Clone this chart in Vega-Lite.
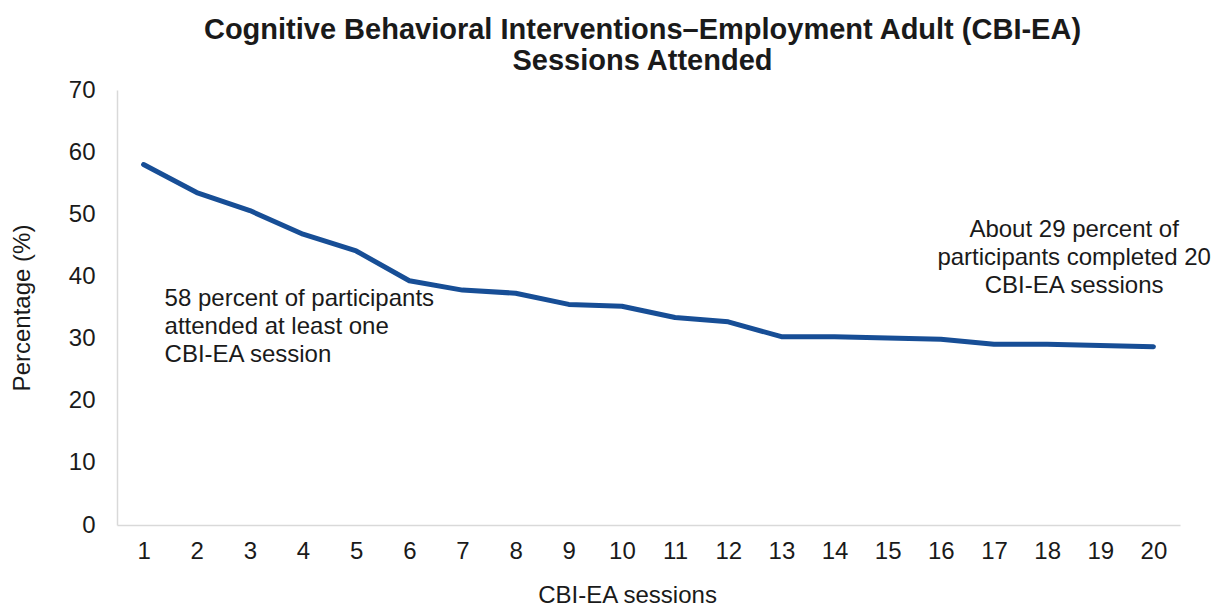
{
  "$schema": "https://vega.github.io/schema/vega-lite/v6.json",
  "autosize": "none",
  "width": 1063,
  "height": 435,
  "padding": {"left": 117, "top": 90, "right": 33, "bottom": 82},
  "background": "white",
  "config": {
    "font": "Liberation Sans",
    "view": {"stroke": null}
  },
  "title": {
    "text": ["Cognitive Behavioral Interventions–Employment Adult (CBI-EA)", "Sessions Attended"],
    "font": "Liberation Sans",
    "fontSize": 29,
    "fontWeight": "bold",
    "color": "#1a1a1a",
    "lineHeight": 31,
    "anchor": "middle",
    "offset": 2,
    "dx": -6
  },
  "datasets": {
    "attendance": [
      {"session": "1", "pct": 58.0},
      {"session": "2", "pct": 53.5},
      {"session": "3", "pct": 50.6},
      {"session": "4", "pct": 46.8},
      {"session": "5", "pct": 44.1},
      {"session": "6", "pct": 39.3},
      {"session": "7", "pct": 37.8},
      {"session": "8", "pct": 37.3},
      {"session": "9", "pct": 35.5},
      {"session": "10", "pct": 35.2},
      {"session": "11", "pct": 33.4},
      {"session": "12", "pct": 32.7},
      {"session": "13", "pct": 30.3},
      {"session": "14", "pct": 30.3},
      {"session": "15", "pct": 30.1},
      {"session": "16", "pct": 29.9},
      {"session": "17", "pct": 29.1},
      {"session": "18", "pct": 29.1},
      {"session": "19", "pct": 28.9},
      {"session": "20", "pct": 28.7}
    ],
    "notes": [
      {"session": "1", "pct": 36.4, "side": "left", "label": ["58 percent of participants", "attended at least one", "CBI-EA session"]},
      {"session": "18", "pct": 47.5, "side": "right", "label": ["About 29 percent of", "participants completed 20", "CBI-EA sessions"]}
    ]
  },
  "encoding": {
    "x": {
      "field": "session",
      "type": "ordinal",
      "sort": null,
      "scale": {"domain": ["1","2","3","4","5","6","7","8","9","10","11","12","13","14","15","16","17","18","19","20"], "paddingInner": 0, "paddingOuter": 0},
      "axis": {
        "title": "CBI-EA sessions",
        "titleFont": "Liberation Sans",
        "titleFontSize": 24,
        "titleFontWeight": "normal",
        "titleColor": "#1a1a1a",
        "titlePadding": 20,
        "titleX": 510,
        "labelFont": "Liberation Sans",
        "labelFontSize": 24,
        "labelColor": "#1a1a1a",
        "labelAngle": 0,
        "labelPadding": 14,
        "ticks": false,
        "domainColor": "#d9d9d9",
        "domainWidth": 1.5
      }
    },
    "y": {
      "field": "pct",
      "type": "quantitative",
      "scale": {"domain": [0, 70], "nice": false},
      "axis": {
        "title": "Percentage (%)",
        "titleFont": "Liberation Sans",
        "titleFontSize": 24,
        "titleFontWeight": "normal",
        "titleColor": "#1a1a1a",
        "titlePadding": 34,
        "labelFont": "Liberation Sans",
        "labelFontSize": 24,
        "labelColor": "#1a1a1a",
        "labelPadding": 22,
        "values": [0, 10, 20, 30, 40, 50, 60, 70],
        "ticks": false,
        "grid": false,
        "domainColor": "#d9d9d9",
        "domainWidth": 1.5
      }
    }
  },
  "layer": [
    {
      "data": {"name": "attendance"},
      "mark": {"type": "line", "color": "#174e96", "strokeWidth": 5, "strokeCap": "round", "strokeJoin": "round"}
    },
    {
      "data": {"name": "notes"},
      "transform": [{"filter": "datum.side === 'left'"}],
      "mark": {"type": "text", "align": "left", "baseline": "middle", "dx": 21, "fontSize": 24, "lineHeight": 28, "color": "#1a1a1a", "font": "Liberation Sans"},
      "encoding": {"text": {"field": "label"}}
    },
    {
      "data": {"name": "notes"},
      "transform": [{"filter": "datum.side === 'right'"}],
      "mark": {"type": "text", "align": "center", "baseline": "middle", "dx": 27, "fontSize": 24, "lineHeight": 28, "color": "#1a1a1a", "font": "Liberation Sans"},
      "encoding": {"text": {"field": "label"}}
    }
  ]
}
